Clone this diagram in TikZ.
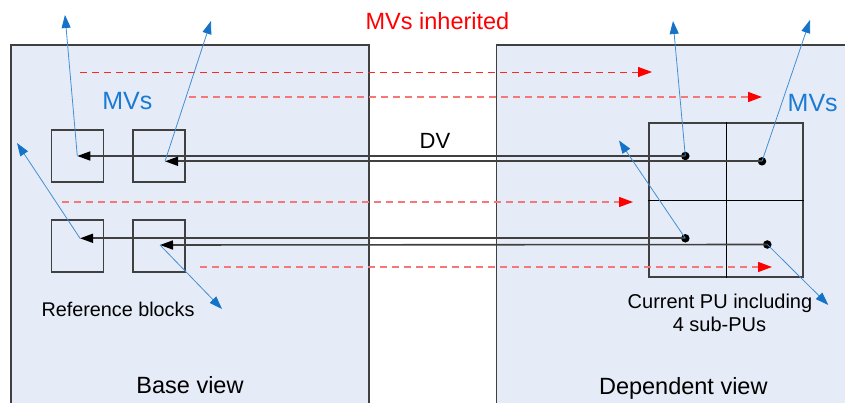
\documentclass[tikz,border=0pt]{standalone}
\usepackage{fontspec}
\setmainfont{Liberation Sans}
\usetikzlibrary{arrows.meta}
\definecolor{panelfill}{RGB}{230,236,247}
\definecolor{panelline}{RGB}{64,64,64}
\definecolor{mvblue}{RGB}{26,122,212}
\definecolor{arrblue}{RGB}{20,115,200}
\definecolor{lightred}{RGB}{244,120,120}
\tikzset{
  panel/.style={draw=panelline,line width=1.3pt,fill=panelfill},
  refblock/.style={draw=panelline,line width=1.2pt,minimum size=52pt,inner sep=0pt},
  dvline/.style={draw=panelline,line width=1.6pt,-{Triangle[length=13pt,width=9pt,color=black]}},
  mvarrow/.style={draw=arrblue!80,line width=0.8pt,-{Triangle[length=13pt,width=9pt,color=arrblue]}},
  inhdark/.style={draw=red!85,line width=0.9pt,dash pattern=on 7pt off 5pt,-{Triangle[length=14pt,width=10pt,color=red]}},
  inhlight/.style={draw=lightred,line width=1.3pt,dash pattern=on 7pt off 5pt,-{Triangle[length=14pt,width=10pt,color=red]}},
  dot/.style={circle,fill=black,inner sep=0pt,minimum size=8.5pt},
  lbl/.style={anchor=base,inner sep=0pt},
}
\begin{document}
\begin{tikzpicture}[x=1pt,y=-1pt]
\clip (0,0) rectangle (845,403);
\fill[white] (0,0) rectangle (845,403);
% panels
\draw[panel] (11,45) rectangle (369,430);
\draw[panel] (496.5,45) rectangle (880,430);
% reference blocks
\node[refblock] (blk1) at (77.3,156) {};
\node[refblock] (blk2) at (159,156) {};
\node[refblock] (blk3) at (77.3,246) {};
\node[refblock] (blk4) at (159,246) {};
% current PU
\node[draw=panelline,line width=1.2pt,minimum size=154pt,inner sep=0pt] (pu) at (726,200) {};
\draw[black,line width=0.8pt] (pu.north) -- (pu.south);
\draw[black,line width=0.8pt] (pu.west) -- (pu.east);
% end points in reference blocks
\coordinate (r1) at (77.3,156);
\coordinate (r2) at (165,161.3);
\coordinate (r3) at (80,238.3);
\coordinate (r4) at (160,245);
% dots in sub-PUs
\node[dot] (dtl) at (685.3,156) {};
\node[dot] (dtr) at (762,161.3) {};
\node[dot] (dbl) at (685.3,238.3) {};
\node[dot] (dbr) at (767.3,244.5) {};
% red inherited arrows
\coordinate (i1s) at (80,72);   \coordinate (i1e) at (652,72);
\coordinate (i2s) at (189,97);  \coordinate (i2e) at (762,97);
\coordinate (i3s) at (62,202);  \coordinate (i3e) at (633,202);
\coordinate (i4s) at (200,267); \coordinate (i4e) at (772,267);
\draw[inhdark] (i1s) -- (i1e);
\draw[inhlight] (i2s) -- (i2e);
\draw[inhlight] (i3s) -- (i3e);
\draw[inhlight] (i4s) -- (i4e);
% DV arrows
\draw[dvline] (dtl.center) -- (r1);
\draw[dvline] (dtr.center) -- (r2);
\draw[dvline] (dbl.center) -- (r3);
\draw[dvline] (dbr.center) -- (r4);
% MV arrows
\coordinate (m1) at (65,15);
\coordinate (m2) at (211,21);
\coordinate (m3) at (17,143);
\coordinate (m4) at (222,309);
\coordinate (m5) at (673,21);
\coordinate (m6) at (810,20);
\coordinate (m7) at (619,140.5);
\coordinate (m8) at (828.3,305);
\draw[mvarrow] (r1) -- (m1);
\draw[mvarrow] (r2) -- (m2);
\draw[mvarrow] (r3) -- (m3);
\draw[mvarrow] (r4) -- (m4);
\draw[mvarrow] (dtl.center) -- (m5);
\draw[mvarrow] (dtr.center) -- (m6);
\draw[mvarrow] (dbl.center) -- (m7);
\draw[mvarrow] (dbr.center) -- (m8);
% texts
\node[lbl,text=red] (title) at (437.5,29.3) {\fontsize{23.5}{28}\selectfont MVs inherited};
\node[lbl,text=mvblue] (mvl) at (127.3,109.3) {\fontsize{25}{30}\selectfont MVs};
\node[lbl,text=mvblue] (mvr) at (812.7,111.7) {\fontsize{25}{30}\selectfont MVs};
\node[lbl] (dv) at (435,148.3) {\fontsize{22}{26}\selectfont DV};
\node[lbl] (refl) at (118,316) {\fontsize{19.8}{24}\selectfont Reference blocks};
\node[lbl] (pul1) at (720,308.3) {\fontsize{20}{24}\selectfont Current PU including};
\node[lbl] (pul2) at (719.5,331.7) {\fontsize{20}{24}\selectfont 4 sub-PUs};
\node[lbl] (basel) at (190,393.3) {\fontsize{23.5}{28}\selectfont Base view};
\node[lbl] (depl) at (683.3,394.3) {\fontsize{23.5}{28}\selectfont Dependent view};
\end{tikzpicture}
\end{document}
